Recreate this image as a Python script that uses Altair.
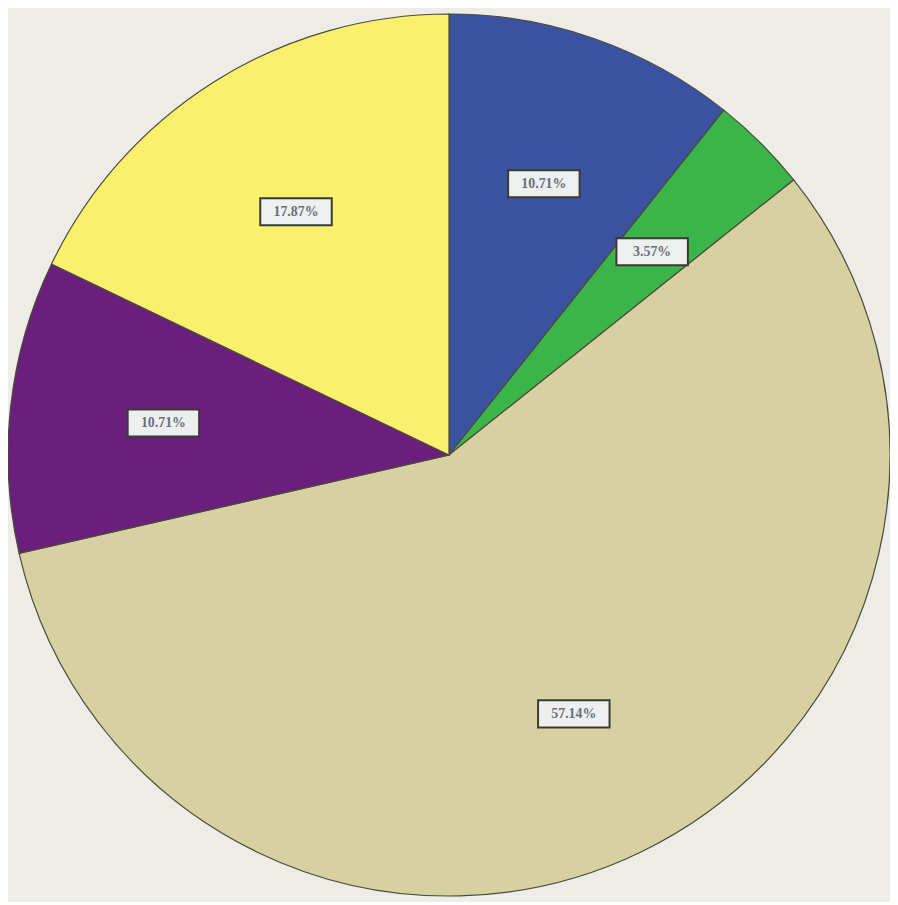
import altair as alt
import pandas as pd

categories = ["Blue", "Green", "Tan", "Purple", "Yellow"]
values = [10.71, 3.57, 57.14, 10.71, 17.87]
labels = ["10.71%", "3.57%", "57.14%", "10.71%", "17.87%"]
colors = ["#3b52a3", "#3bb54a", "#d7d1a1", "#6b1f7c", "#f9f06e"]

df = pd.DataFrame({"cat": categories, "val": values, "label": labels,
                   "order": list(range(len(categories)))})

W, H = 890, 894
CX, CY = W / 2, H / 2
R_LABEL = 290

base = alt.Chart(df)

pie = base.mark_arc(outerRadius=445, stroke="#4a4a3a", strokeWidth=1.2).encode(
    theta=alt.Theta("val:Q", stack=True),
    order=alt.Order("order:Q"),
    color=alt.Color("cat:N", scale=alt.Scale(domain=categories, range=colors), legend=None),
)

pos = base.transform_window(
    cum="sum(val)", sort=[alt.SortField("order")]
).transform_joinaggregate(total="sum(val)").transform_calculate(
    mid="2*PI*(datum.cum - datum.val/2)/datum.total"
).transform_calculate(
    px=f"{CX} + {R_LABEL}*sin(datum.mid)",
    py=f"{CY} - {R_LABEL}*cos(datum.mid)",
)

boxes = pos.mark_point(
    shape="M-1,-0.38L1,-0.38L1,0.38L-1,0.38Z", size=5200, filled=True,
    fill="#eef0f0", stroke="#3a3a30", strokeWidth=2, opacity=1,
).encode(
    x=alt.X("px:Q", scale=None, axis=None),
    y=alt.Y("py:Q", scale=None, axis=None),
)

texts = pos.mark_text(font="Liberation Serif", fontSize=14, color="#6a6e78",
                      fontWeight="bold").encode(
    x=alt.X("px:Q", scale=None, axis=None),
    y=alt.Y("py:Q", scale=None, axis=None),
    text="label:N",
)

chart = alt.layer(pie, boxes, texts).properties(
    width=W, height=H, background="#eeece7", padding=0,
    autosize=alt.AutoSizeParams(type="none"),
).configure_view(stroke=None)

chart.save("out.html", embed_options={"renderer": "svg", "actions": False})
